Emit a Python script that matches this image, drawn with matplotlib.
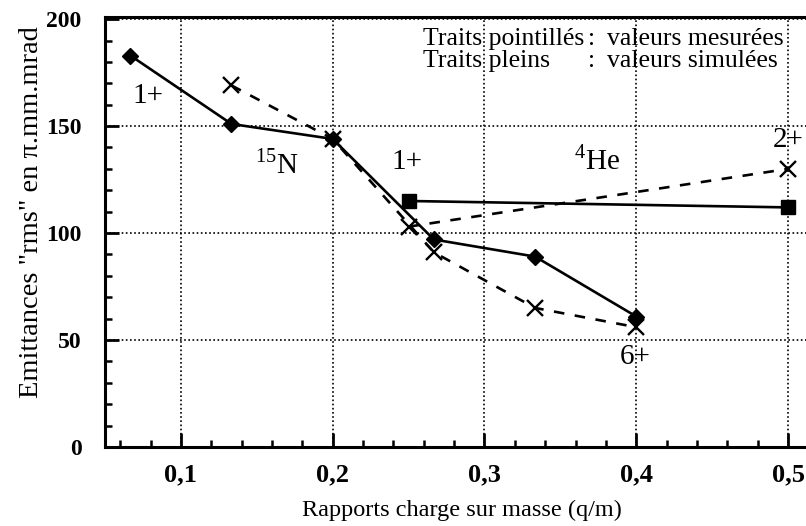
import matplotlib
matplotlib.use("Agg")
import matplotlib.pyplot as plt
from matplotlib.ticker import MultipleLocator, FuncFormatter

plt.rcParams['font.family'] = ['Liberation Serif', 'DejaVu Serif']
plt.rcParams['mathtext.fontset'] = 'custom'
plt.rcParams['mathtext.rm'] = 'Liberation Serif'

# 15N: charge states 1+ .. 6+ (q/m = q/15)
n_qm_sim = [1 / 15, 2 / 15, 3 / 15, 4 / 15, 5 / 15, 6 / 15]
n_emit_sim = [183, 151, 144, 97, 89, 61]
n_qm_mes = [2 / 15, 3 / 15, 4 / 15, 5 / 15, 6 / 15]
n_emit_mes = [169, 144, 91, 65, 56]

# 4He: charge states 1+ and 2+
he_qm = [0.25, 0.5]
he_emit_sim = [115, 112]
he_emit_mes = [103, 130]

x_ticks = [0.1, 0.2, 0.3, 0.4, 0.5]
y_ticks = [0, 50, 100, 150, 200]

fig = plt.figure(figsize=(8.06, 5.26), dpi=100)
ax = fig.add_axes([105 / 806, 79 / 526, 701 / 806, 430 / 526])

dash = (0, (4, 4))
ax.plot(n_qm_sim, n_emit_sim, color='black', lw=1.9, marker='D', ms=8,
        zorder=4)
ax.plot(n_qm_mes, n_emit_mes, color='black', lw=1.9, ls=dash, marker='x',
        ms=11, mew=1.7, zorder=3)
ax.plot(he_qm, he_emit_sim, color='black', lw=1.9, marker='s', ms=10,
        zorder=4)
ax.plot(he_qm, he_emit_mes, color='black', lw=1.9, ls=dash, marker='x',
        ms=11, mew=1.7, zorder=3)

ax.set_xlim(0.05, 0.5118)
ax.set_ylim(0, 201)
ax.set_xticks(x_ticks)
ax.set_yticks(y_ticks)
ax.xaxis.set_minor_locator(MultipleLocator(0.02))
ax.yaxis.set_minor_locator(MultipleLocator(10))
ax.xaxis.set_major_formatter(FuncFormatter(lambda v, p: f"{v:.1f}".replace('.', ',')))
ax.tick_params(which='both', direction='in', top=False, right=False)
ax.tick_params(which='major', length=10, width=2)
ax.tick_params(which='minor', length=5, width=1.8)
ax.tick_params(axis='x', which='major', labelsize=19, pad=12)
ax.tick_params(axis='y', which='major', labelsize=17, pad=17)
for lab in ax.get_xticklabels() + ax.get_yticklabels():
    lab.set_fontweight('bold')

for side in ['left', 'bottom', 'top']:
    ax.spines[side].set_linewidth(2.2)
ax.spines['right'].set_visible(False)

ax.grid(True, which='major', color='black', lw=1.2, ls=(0, (1, 1.5)))
ax.set_axisbelow(True)

# charge state / isotope annotations
big = 21
ax.text(0.078, 164, '1+', fontsize=big, ha='center', va='center')
ax.text(0.163, 132, r'$^{15}$N', fontsize=big, ha='center', va='center')
ax.text(0.249, 133, '1+', fontsize=big, ha='center', va='center')
ax.text(0.374, 134, r'$^{4}$He', fontsize=big, ha='center', va='center')
ax.text(0.5, 143.5, '2+', fontsize=big, ha='center', va='center')
ax.text(0.399, 42, '6+', fontsize=big, ha='center', va='center')

# line-style key
for yk, left, right in [(190.5, 'Traits pointillés', 'valeurs mesurées'),
                        (180.5, 'Traits pleins', 'valeurs simulées')]:
    ax.text(0.2592, yk, left, fontsize=18.5, ha='left', va='center')
    ax.text(0.3704, yk, ':', fontsize=18.5, ha='center', va='center')
    ax.text(0.3810, yk, right, fontsize=18.5, ha='left', va='center')

fig.text(462 / 806, 0.030, 'Rapports charge sur masse (q/m)', fontsize=17.5,
         ha='center', va='center')
fig.text(32 / 806, 0.597, 'Emittances "rms" en π.mm.mrad', fontsize=20.5,
         ha='center', va='center', rotation=90)

fig.savefig('out.png', dpi=100)
